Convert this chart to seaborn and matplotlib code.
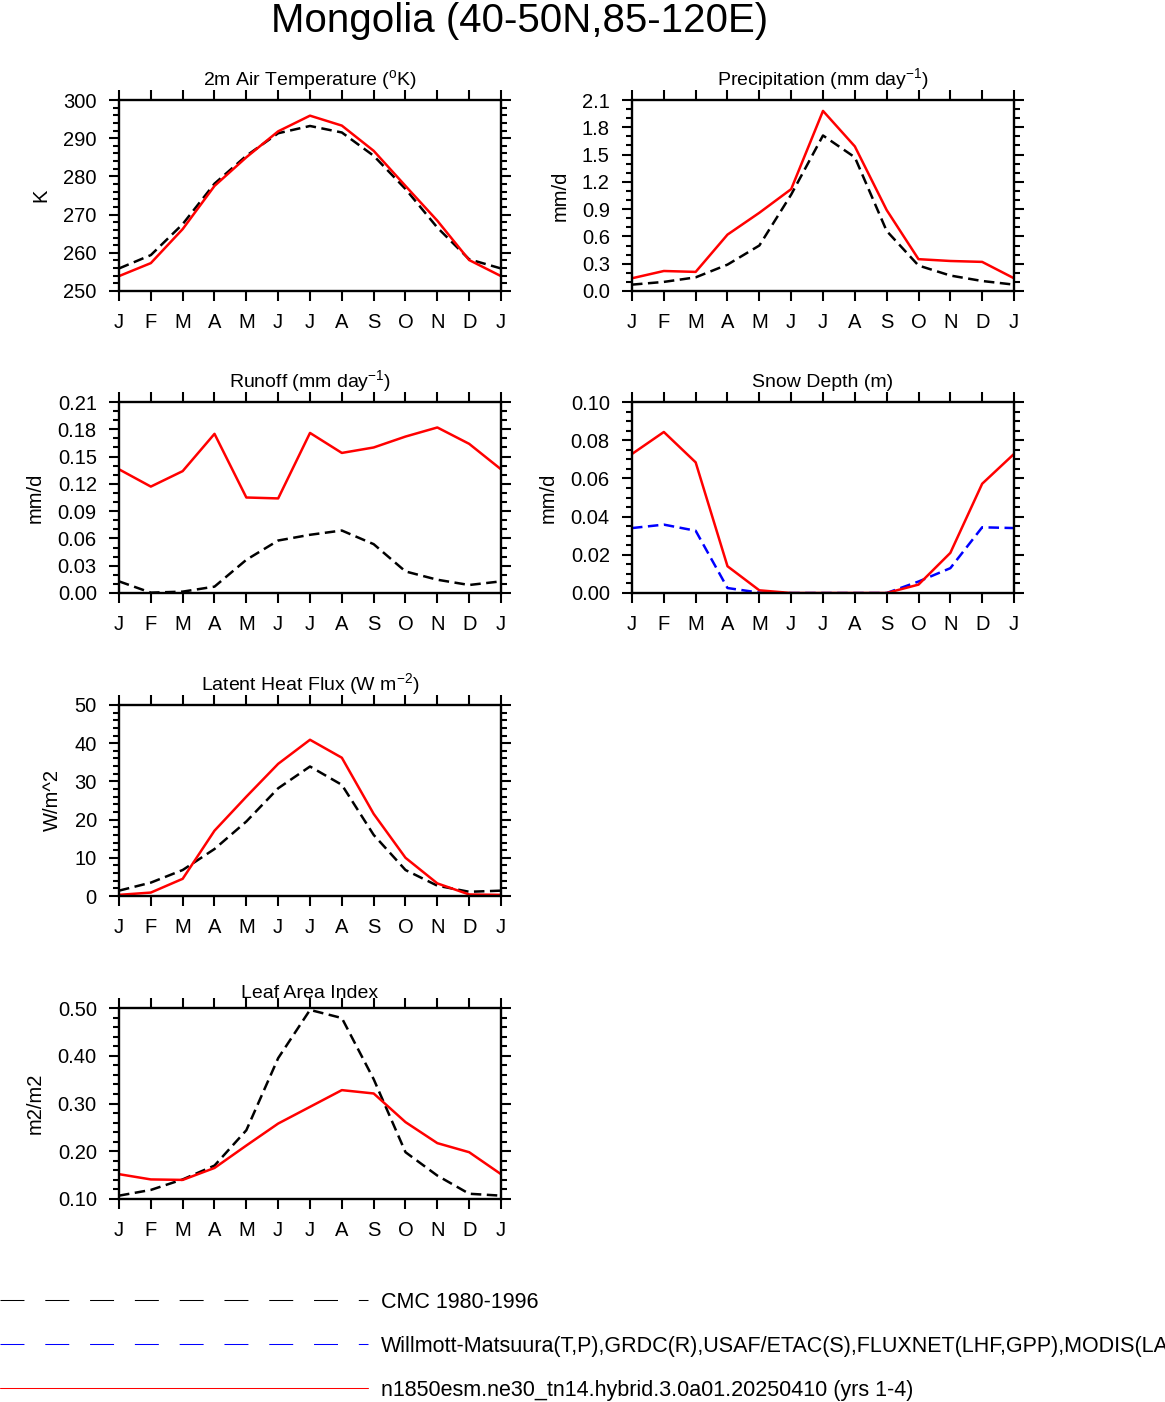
import matplotlib
matplotlib.use('Agg')
import matplotlib.pyplot as plt
from matplotlib.lines import Line2D
from matplotlib.ticker import MultipleLocator, FormatStrFormatter
import seaborn as sns

# monthly climatologies, Mongolia box
month_labels = ['J', 'F', 'M', 'A', 'M', 'J', 'J', 'A', 'S', 'O', 'N', 'D', 'J']

tsa_model = [253.9, 257.3, 266.2, 277.5, 285.0, 291.8, 295.9, 293.3, 286.7, 277.5, 268.4, 258.1]
tsa_obs = [255.9, 259.4, 267.5, 278.1, 285.4, 291.3, 293.2, 291.5, 285.4, 276.7, 266.6, 258.3]

prec_model = [0.14, 0.22, 0.21, 0.62, 0.86, 1.12, 1.98, 1.59, 0.89, 0.35, 0.33, 0.32]
prec_obs = [0.07, 0.10, 0.15, 0.29, 0.50, 1.06, 1.71, 1.47, 0.66, 0.28, 0.17, 0.11]

runoff_model = [0.136, 0.117, 0.134, 0.175, 0.105, 0.104, 0.176, 0.154, 0.160, 0.172, 0.182, 0.164]
runoff_obs = [0.0128, 0.0004, 0.0015, 0.007, 0.0365, 0.0577, 0.064, 0.0687, 0.0537, 0.0237, 0.0146, 0.0088]

snow_model = [0.0728, 0.0843, 0.0684, 0.014, 0.0014, 0.0, 0.0, 0.0, 0.0, 0.0044, 0.021, 0.0572]
snow_obs = [0.034, 0.0358, 0.0326, 0.0026, 0.0002, 0.0, 0.0, 0.0, 0.0, 0.006, 0.013, 0.0344]
snow_cmc = [0.0, 0.0, 0.0, 0.0, 0.0, 0.0, 0.0, 0.0, 0.0, 0.0, 0.0, 0.0]

lhf_model = [0.3, 0.9, 4.5, 17.1, 26.0, 34.6, 40.9, 36.2, 21.5, 10.0, 3.3, 0.4]
lhf_obs = [1.4, 3.5, 6.8, 12.3, 19.5, 28.2, 33.9, 29.1, 16.0, 6.8, 2.7, 1.1]

lai_model = [0.152, 0.141, 0.140, 0.165, 0.212, 0.258, 0.293, 0.328, 0.321, 0.261, 0.217, 0.198]
lai_obs = [0.107, 0.119, 0.141, 0.170, 0.244, 0.395, 0.496, 0.479, 0.351, 0.198, 0.149, 0.111]

legend_labels = ['CMC 1980-1996',
                 'Willmott-Matsuura(T,P),GRDC(R),USAF/ETAC(S),FLUXNET(LHF,GPP),MODIS(LAI)',
                 'n1850esm.ne30_tn14.hybrid.3.0a01.20250410 (yrs 1-4)']

sns.set_theme(style='ticks')
plt.rcParams['font.family'] = ['Liberation Sans', 'DejaVu Sans']
plt.rcParams['mathtext.fontset'] = 'custom'
plt.rcParams['mathtext.rm'] = 'Liberation Sans'
plt.rcParams['mathtext.it'] = 'Liberation Sans:italic'
plt.rcParams['axes.edgecolor'] = 'black'
plt.rcParams['text.color'] = 'black'
plt.rcParams['axes.labelcolor'] = 'black'
plt.rcParams['xtick.color'] = 'black'
plt.rcParams['ytick.color'] = 'black'


def cycle(vals):
    # close the annual cycle (last J = first J)
    return list(vals) + [vals[0]]


x = list(range(13))

fig = plt.figure(figsize=(11.65, 14.02), dpi=100)

left_col, right_col = 119 / 1165, 632 / 1165
w, h = 382 / 1165, 191 / 1402
rows = [1 - 291 / 1402, 1 - 593 / 1402, 1 - 896 / 1402, 1 - 1199 / 1402]

panels = [
    (left_col, rows[0], r'2m Air Temperature ($^{\mathrm{o}}$K)', 'K', (250, 300), 10, 2, '%d',
     [(tsa_obs, 'black', True), (tsa_model, 'red', False)], 11),
    (right_col, rows[0], r'Precipitation (mm day$^{-1}$)', 'mm/d', (0, 2.1), 0.3, 0.1, '%.1f',
     [(prec_obs, 'black', True), (prec_model, 'red', False)], 11),
    (left_col, rows[1], r'Runoff (mm day$^{-1}$)', 'mm/d', (0, 0.21), 0.03, 0.01, '%.2f',
     [(runoff_obs, 'black', True), (runoff_model, 'red', False)], 11),
    (right_col, rows[1], 'Snow Depth (m)', 'mm/d', (0, 0.10), 0.02, 0.005, '%.2f',
     [(snow_cmc, 'black', True), (snow_obs, 'blue', True), (snow_model, 'red', False)], 11),
    (left_col, rows[2], r'Latent Heat Flux (W m$^{-2}$)', 'W/m^2', (0, 50), 10, 2, '%d',
     [(lhf_obs, 'black', True), (lhf_model, 'red', False)], 11),
    (left_col, rows[3], 'Leaf Area Index', 'm2/m2', (0.10, 0.50), 0.10, 0.02, '%.2f',
     [(lai_obs, 'black', True), (lai_model, 'red', False)], 7.5),
]

for (x0, y0, title, ylabel, ylim, major, minor, fmt, series, tpad) in panels:
    ax = fig.add_axes([x0, y0, w, h])
    for vals, color, dashed in series:
        sns.lineplot(x=x, y=cycle(vals), ax=ax, color=color, linewidth=1.8)
        if dashed:
            ax.lines[-1].set_dashes((4.2, 2.2))
    ax.set_xlim(0, 12)
    ax.set_ylim(*ylim)
    ax.set_xticks(x)
    ax.set_xticklabels(month_labels)
    ax.yaxis.set_major_locator(MultipleLocator(major))
    ax.yaxis.set_minor_locator(MultipleLocator(minor))
    ax.yaxis.set_major_formatter(FormatStrFormatter(fmt))
    ax.tick_params(which='both', direction='out', top=True, right=True, width=1.5,
                   colors='black', labelsize=14.5)
    ax.tick_params(which='major', length=7.5)
    ax.tick_params(which='minor', length=4.5)
    ax.tick_params(axis='x', pad=8)
    ax.tick_params(axis='y', pad=8.5)
    for sp in ax.spines.values():
        sp.set_linewidth(1.7)
        sp.set_visible(True)
    ax.set_ylabel(ylabel, fontsize=14.5, labelpad=9)
    ax.set_xlabel('')
    ax.set_title(title, fontsize=14, y=1.0, pad=tpad)

fig.text(520 / 1165, 1 - 32 / 1402, 'Mongolia (40-50N,85-120E)', ha='center', va='baseline',
         fontsize=29)

handles = [
    Line2D([], [], color='black', linewidth=0.75, dashes=(23, 20)),
    Line2D([], [], color='blue', linewidth=0.75, dashes=(23, 20)),
    Line2D([], [], color='red', linewidth=0.75),
]
fig.legend(handles, legend_labels, loc='upper left', bbox_to_anchor=(0, 1 - 1292 / 1402),
           frameon=False, fontsize=15.5, handlelength=17.1, handletextpad=0.6,
           borderpad=0, borderaxespad=0, labelspacing=1.06)

fig.savefig('out.png', dpi=100)
